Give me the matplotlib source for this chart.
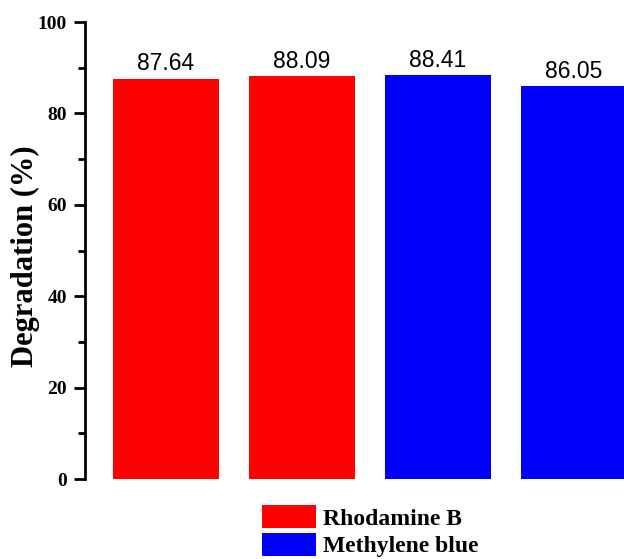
import matplotlib
matplotlib.use("Agg")
import matplotlib.pyplot as plt
from matplotlib.patches import Patch
from matplotlib.ticker import MultipleLocator

# Degradation efficiency of the four runs
runs = ["Run 1", "Run 2", "Run 3", "Run 4"]
degradation = [87.64, 88.09, 88.41, 86.05]
dyes = ["Rhodamine B", "Rhodamine B", "Methylene blue", "Methylene blue"]
dye_colors = {"Rhodamine B": "#ff0000", "Methylene blue": "#0000ff"}
y_ticks = [0, 20, 40, 60, 80, 100]

serif = "Liberation Serif"

fig = plt.figure(figsize=(6.24, 5.59), dpi=100)
ax = fig.add_axes([0.1362, 0.1431, 0.9135, 0.8175])

x = list(range(len(runs)))
bars = ax.bar(x, degradation, width=0.78,
              color=[dye_colors[d] for d in dyes], zorder=2)

for xi, v in zip(x, degradation):
    ax.text(xi, v + 0.7, f"{v:.2f}", ha="center", va="bottom",
            fontsize=16.5, family="Liberation Sans")

ax.set_xlim(-0.596, 3.596)
ax.set_ylim(0, 100)
ax.set_xticks([])
ax.set_yticks(y_ticks)
ax.yaxis.set_minor_locator(MultipleLocator(10))
ax.set_yticklabels([str(t) for t in y_ticks], fontsize=14,
                   fontweight="bold", family=serif)

for side in ("top", "right", "bottom"):
    ax.spines[side].set_visible(False)
ax.spines["left"].set_linewidth(2)
ax.tick_params(axis="y", which="major", direction="out", length=8,
               width=2, pad=5)
ax.tick_params(axis="y", which="minor", direction="out", length=5,
               width=2)

ax.set_ylabel("Degradation (%)", fontsize=22, fontweight="bold",
              family=serif)
ax.yaxis.set_label_coords(-0.079, 0.488)

handles = [Patch(facecolor=dye_colors[k], edgecolor="none")
           for k in ("Rhodamine B", "Methylene blue")]
fig.legend(handles, ["Rhodamine B", "Methylene blue"],
           loc="upper left", bbox_to_anchor=(262 / 624, 1 - 505 / 559),
           frameon=False, borderpad=0, borderaxespad=0,
           handlelength=2.3, handleheight=1.15, handletextpad=0.28,
           labelspacing=0.12,
           prop={"family": serif, "weight": "bold", "size": 17})

fig.savefig("out.png", dpi=100)
